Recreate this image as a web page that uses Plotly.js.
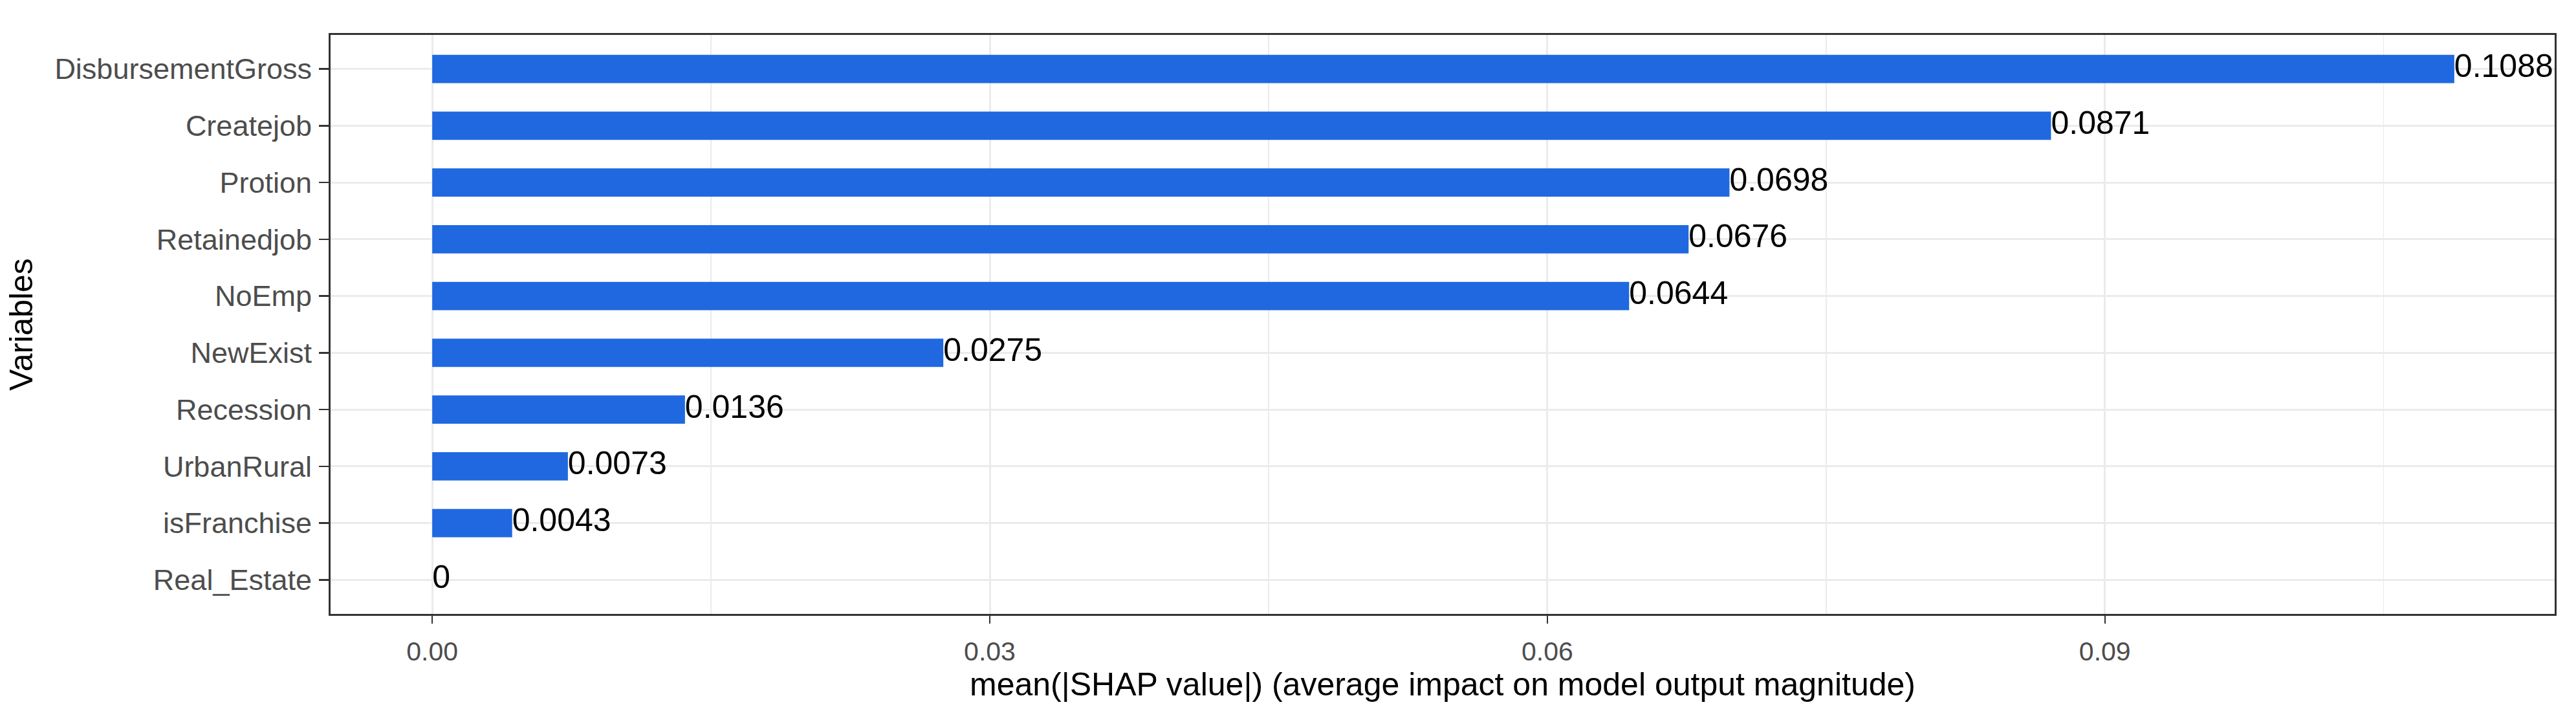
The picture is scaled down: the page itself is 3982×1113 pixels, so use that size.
<!DOCTYPE html>
<html>
<head>
<meta charset="utf-8">
<script src="https://cdn.plot.ly/plotly-3.0.1.min.js"></script>
<style>
html,body{margin:0;padding:0;background:#fff;}
#chart{width:3982px;height:1113px;}
</style>
</head>
<body>
<div id="chart"></div>
<script>
// Data (top to bottom)
const variables = ["DisbursementGross","Createjob","Protion","Retainedjob","NoEmp","NewExist","Recession","UrbanRural","isFranchise","Real_Estate"];
const shapValues = [0.1088, 0.0871, 0.0698, 0.0676, 0.0644, 0.0275, 0.0136, 0.0073, 0.0043, 0];
const valueLabels = ["0.1088","0.0871","0.0698","0.0676","0.0644","0.0275","0.0136","0.0073","0.0043","0"];
const xTickVals = [0, 0.03, 0.06, 0.09];
const xTickText = ["0.00", "0.03", "0.06", "0.09"];

const font = "Liberation Sans, Arial, sans-serif";

const bars = {
  type: "bar",
  orientation: "h",
  x: shapValues,
  y: variables,
  width: 0.5,
  marker: {color: "#1F68E0", line: {width: 0}},
  hoverinfo: "x+y",
  showlegend: false
};

const labels = {
  type: "scatter",
  mode: "text",
  x: shapValues,
  y: variables,
  text: valueLabels,
  textposition: "middle right",
  textfont: {family: font, size: 50, color: "#000000"},
  cliponaxis: false,
  hoverinfo: "skip",
  showlegend: false
};

const layout = {
  width: 3982,
  height: 1113,
  margin: {l: 511, r: 33, t: 54, b: 164, pad: 0},
  paper_bgcolor: "#ffffff",
  plot_bgcolor: "#ffffff",
  font: {family: font},
  xaxis: {
    range: [-0.00547, 0.1142],
    tickmode: "array",
    tickvals: xTickVals,
    ticktext: xTickText,
    tickfont: {family: font, size: 41, color: "#4D4D4D"},
    ticks: "outside",
    ticklen: 12,
    tickwidth: 2.5,
    tickcolor: "#333333",
    ticklabelstandoff: 8,
    showgrid: true,
    gridcolor: "#EBEBEB",
    gridwidth: 3,
    minor: {dtick: 0.015, tick0: 0, showgrid: true, gridcolor: "#EBEBEB", gridwidth: 1.5, ticks: ""},
    zeroline: false,
    showline: true,
    linecolor: "#333333",
    linewidth: 3,
    mirror: true,
    title: {text: "mean(|SHAP value|) (average impact on model output magnitude)", font: {family: font, size: 50, color: "#000000"}, standoff: 10}
  },
  yaxis: {
    type: "category",
    categoryorder: "array",
    categoryarray: variables,
    range: [9.6, -0.6],
    tickfont: {family: font, size: 45, color: "#4D4D4D"},
    ticks: "outside",
    ticklen: 15,
    tickwidth: 2.5,
    tickcolor: "#333333",
    ticklabelstandoff: 2,
    showgrid: true,
    gridcolor: "#EBEBEB",
    gridwidth: 3,
    zeroline: false,
    showline: true,
    linecolor: "#333333",
    linewidth: 3,
    mirror: true,
    title: {text: "Variables", font: {family: font, size: 50, color: "#000000"}, standoff: 18}
  },
  bargap: 0.5
};

Plotly.newPlot("chart", [bars, labels], layout, {displayModeBar: false, staticPlot: true});
</script>
</body>
</html>
